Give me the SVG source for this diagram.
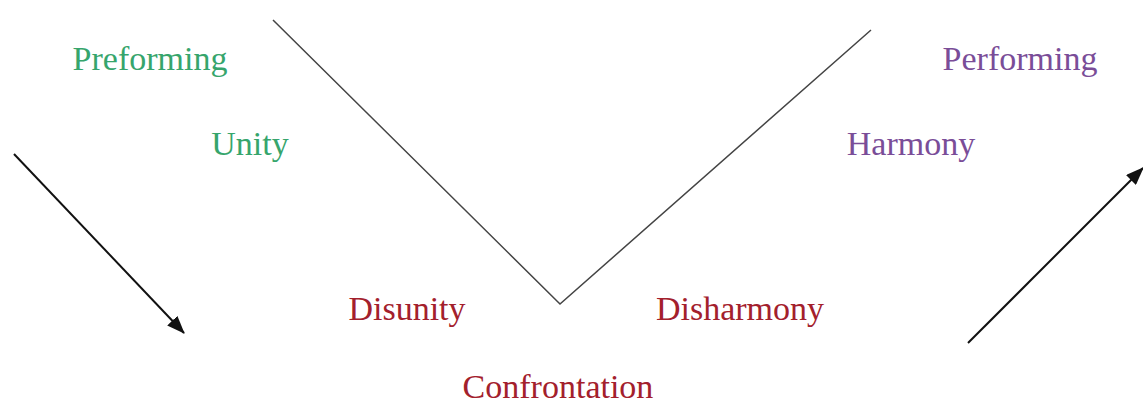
<svg xmlns="http://www.w3.org/2000/svg" width="1143" height="406" viewBox="0 0 1143 406">
<style>
text{font-family:"Liberation Serif","Times New Roman",serif;font-size:34px;text-anchor:middle}
.g{fill:#36a56c}.p{fill:#7a4d98}.r{fill:#a3202c}
.ln{stroke:#444;stroke-width:1.5;fill:none}
.ar{stroke:#111;stroke-width:2;fill:none;marker-end:url(#ah)}
</style>
<defs>
<marker id="ah" viewBox="0 0 18 14" refX="17" refY="7" markerWidth="18" markerHeight="14" markerUnits="userSpaceOnUse" orient="auto">
<path d="M0,0 L18,7 L0,14 z" fill="#111"/>
</marker>
</defs>
<rect width="1143" height="406" fill="#fff"/>
<g id="connectors">
<polyline class="ln" points="273,20 560,304 871,30"/>
<line class="ar" x1="14" y1="154" x2="184" y2="333"/>
<line class="ar" x1="968" y1="343" x2="1143" y2="168"/>
</g>
<g id="preforming"><text class="g" x="150" y="70">Preforming</text></g>
<g id="unity"><text class="g" x="250" y="155">Unity</text></g>
<g id="disunity"><text class="r" x="407" y="320">Disunity</text></g>
<g id="confrontation"><text class="r" x="558" y="398">Confrontation</text></g>
<g id="disharmony"><text class="r" x="740" y="320">Disharmony</text></g>
<g id="harmony"><text class="p" x="911" y="155">Harmony</text></g>
<g id="performing"><text class="p" x="1020" y="70">Performing</text></g>
</svg>
